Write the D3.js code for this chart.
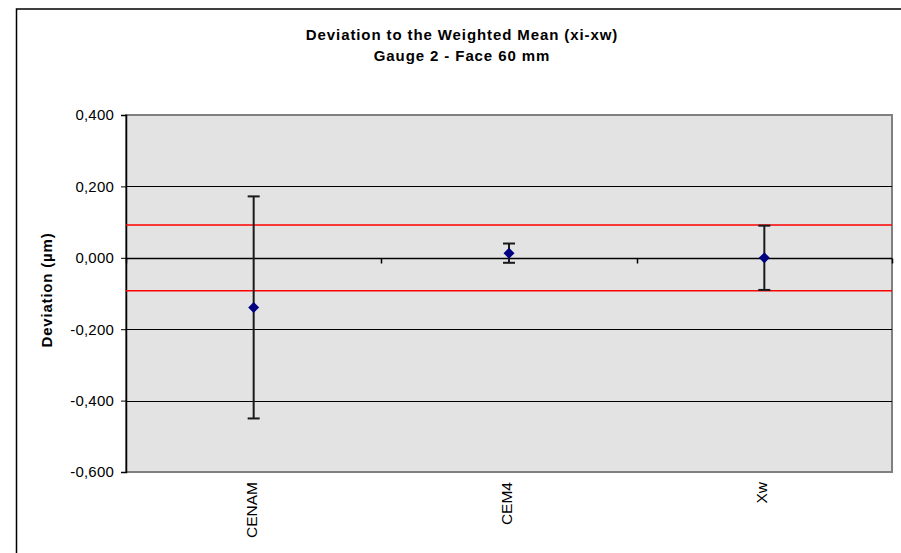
<!DOCTYPE html>
<html><head><meta charset="utf-8">
<script src="https://cdn.jsdelivr.net/npm/d3@7"></script>
<style>body{margin:0;background:#fff}svg{display:block;font-family:"Liberation Sans",Arial,sans-serif}</style>
</head><body><svg id="c" width="901" height="553"></svg>
<script>
const categories = ["CENAM", "CEM4", "Xw"];
const deviations = [-0.139, 0.013, 0.000];
const uncertainties = [0.311, 0.027, 0.090];
const limitValue = 0.092;
const yTicks = [-0.6, -0.4, -0.2, 0, 0.2, 0.4];
const titleLines = ["Deviation to the Weighted Mean (xi-xw)", "Gauge 2 - Face 60 mm"];
const yTitle = "Deviation (µm)";

const svg = d3.select("#c");
const L = 126, R = 892, T = 115, B = 472;

// outer chart border
svg.append("rect").attr("x", 16.5).attr("y", 9).attr("width", 1000).attr("height", 1000)
  .attr("fill", "#fff").attr("stroke", "#000").attr("stroke-width", 1.5);

const x = d3.scaleBand().domain(categories).range([L, R]);
const y = d3.scaleLinear().domain([-0.6, 0.4]).range([B, T]);

// plot area
svg.append("rect").attr("x", L).attr("y", T).attr("width", R - L).attr("height", B - T)
  .attr("fill", "#e3e3e3").attr("stroke", "#808080").attr("stroke-width", 2);

// gridlines
svg.append("g").selectAll("line").data(yTicks.filter(d => d > -0.6 && d < 0.4)).join("line")
  .attr("x1", L).attr("x2", R).attr("y1", d => Math.round(y(d)) + 0.5).attr("y2", d => Math.round(y(d)) + 0.5)
  .attr("stroke", "#000").attr("stroke-width", 1);

// y axis
const fmt = d => d3.format(".3f")(d).replace(".", ",").replace("−", "-");
const yAxis = svg.append("g").attr("transform", `translate(${L},0)`)
  .call(d3.axisLeft(y).tickValues(yTicks).tickSize(5).tickPadding(7).tickFormat(fmt));
yAxis.select(".domain").attr("stroke", "#000").attr("stroke-width", 1.5);
yAxis.selectAll(".tick line").attr("stroke", "#000");
yAxis.selectAll("text").attr("font-size", 15).attr("fill", "#000").attr("letter-spacing", 0.2)
  .attr("font-family", "'Liberation Sans', Arial, sans-serif");

// category axis at zero with boundary ticks
const y0 = Math.round(y(0)) + 0.5;
svg.append("line").attr("x1", L).attr("x2", R).attr("y1", y0).attr("y2", y0).attr("stroke", "#000").attr("stroke-width", 1.5);
const bounds = categories.map(c => x(c)).concat([R]);
svg.append("g").selectAll("line").data(bounds).join("line")
  .attr("x1", d => Math.round(d) + 0.5).attr("x2", d => Math.round(d) + 0.5)
  .attr("y1", y0).attr("y2", y0 + 5).attr("stroke", "#000").attr("stroke-width", 1.5);

// category labels (rotated)
svg.append("g").selectAll("text").data(categories).join("text")
  .attr("transform", c => `translate(${x(c) + x.bandwidth() / 2 + 3},${B + 10}) rotate(-90)`)
  .attr("text-anchor", "end").attr("font-size", 15.5).attr("fill", "#000").text(c => c);

// red limit lines
svg.append("g").selectAll("line").data([limitValue, -limitValue]).join("line")
  .attr("x1", L).attr("x2", R).attr("y1", d => y(d)).attr("y2", d => y(d))
  .attr("stroke", "#ff0000").attr("stroke-width", 1.5);

// error bars
const pts = categories.map((c, i) => ({c, v: deviations[i], u: uncertainties[i]}));
const eb = svg.append("g").attr("stroke", "#1a1a1a").attr("stroke-width", 2);
pts.forEach(p => {
  const cx = x(p.c) + x.bandwidth() / 2;
  eb.append("line").attr("x1", cx).attr("x2", cx).attr("y1", y(p.v + p.u)).attr("y2", y(p.v - p.u));
  [p.v + p.u, p.v - p.u].forEach(e => eb.append("line").attr("x1", cx - 6).attr("x2", cx + 6).attr("y1", y(e)).attr("y2", y(e)));
});

// markers
svg.append("g").selectAll("path").data(pts).join("path")
  .attr("transform", p => `translate(${x(p.c) + x.bandwidth() / 2},${y(p.v)})`)
  .attr("d", "M0,-5.5L5.5,0L0,5.5L-5.5,0Z").attr("fill", "#000080");

// titles
svg.append("g").selectAll("text").data(titleLines).join("text")
  .attr("x", 462).attr("y", (d, i) => 39.5 + i * 21.5).attr("text-anchor", "middle")
  .attr("font-size", 15).attr("font-weight", "bold").attr("letter-spacing", 0.9).attr("fill", "#000").text(d => d);

svg.append("text").attr("transform", `translate(52,290) rotate(-90)`).attr("text-anchor", "middle")
  .attr("font-size", 15).attr("font-weight", "bold").attr("letter-spacing", 0.8).attr("fill", "#000").text(yTitle);
</script></body></html>
